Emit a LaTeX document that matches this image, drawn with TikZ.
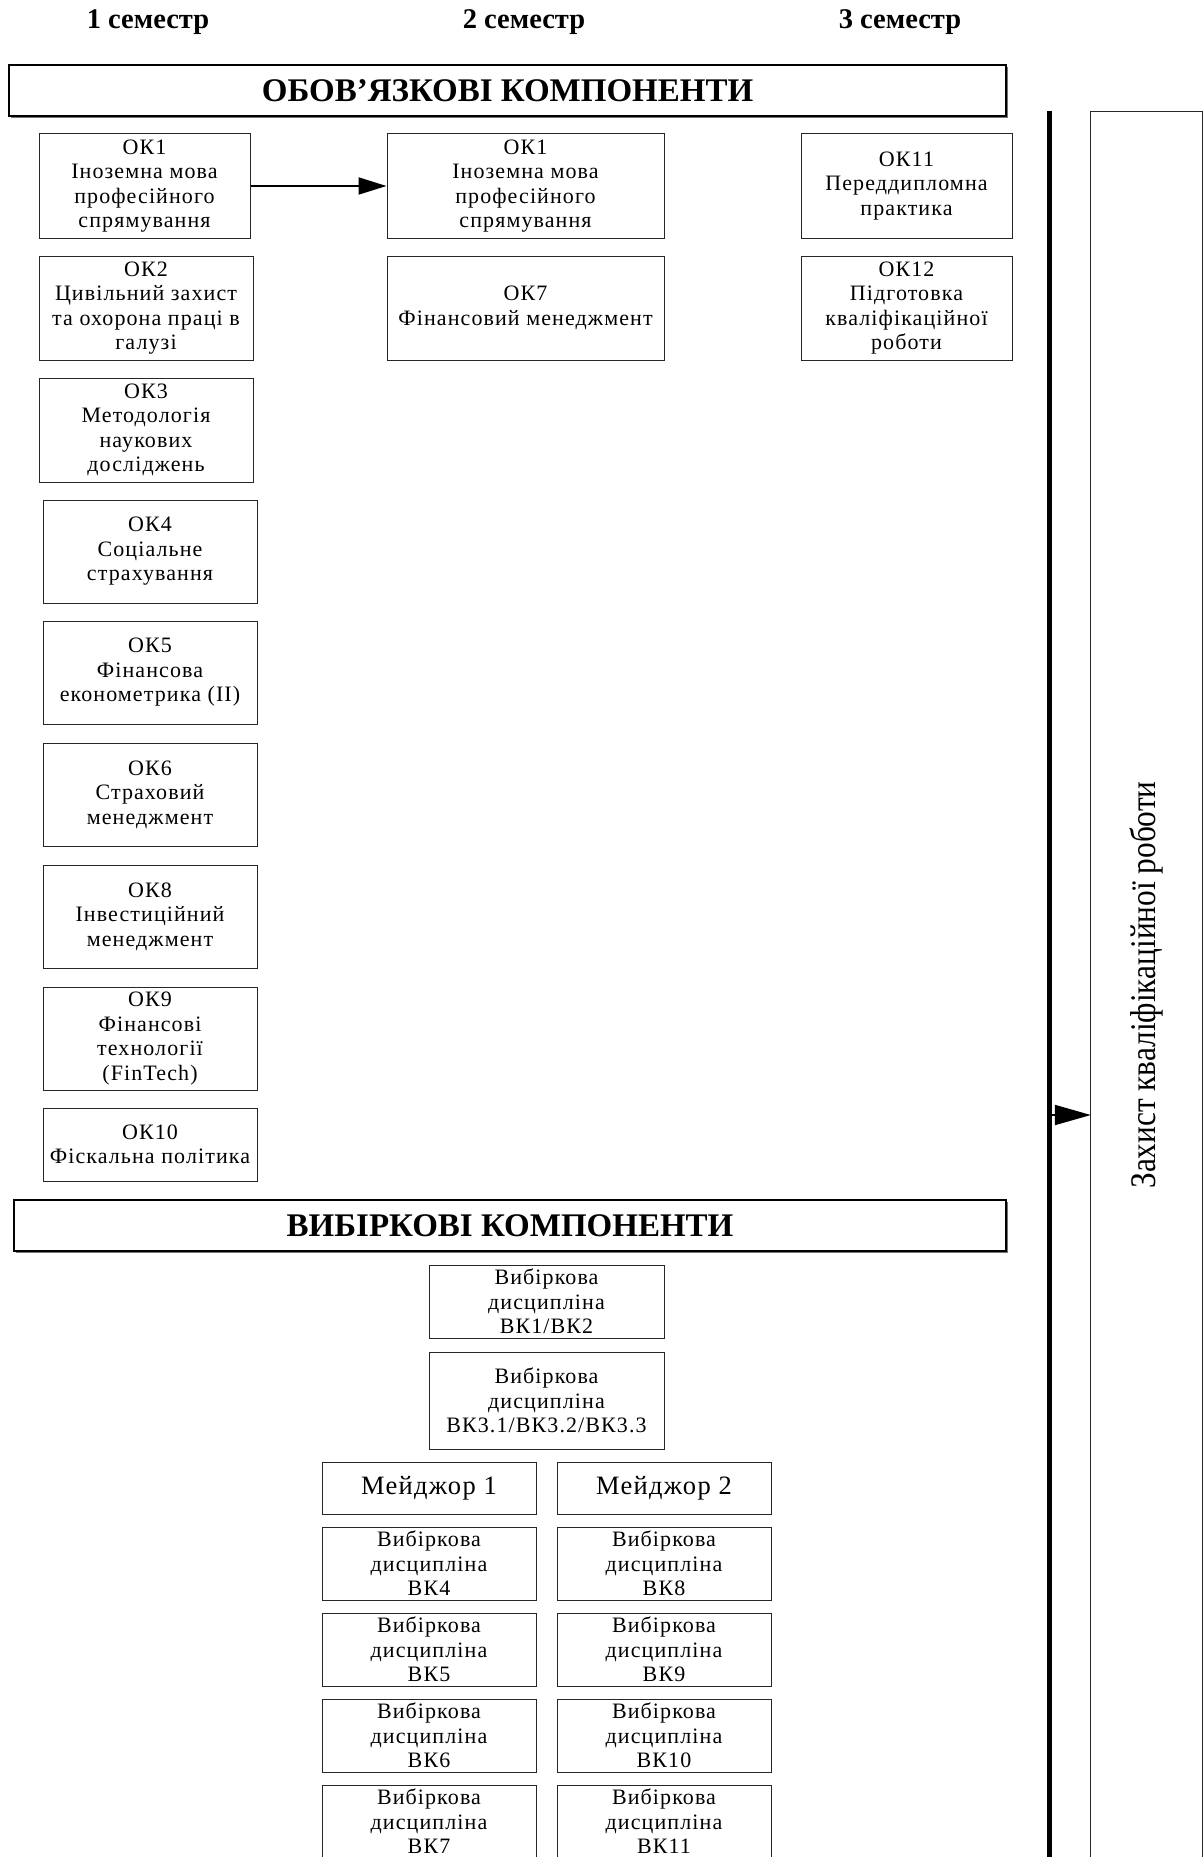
\documentclass[tikz,border=0pt]{standalone}
\usepackage{fontspec}
\usepackage{graphicx}
\setmainfont{Liberation Serif}
\newfontfamily\boxfont[LetterSpace=5]{Liberation Serif}
\usetikzlibrary{arrows.meta,shadows}
\tikzset{
  bx/.style={draw=black!85, line width=1pt, align=center, inner sep=0pt,
    font=\boxfont\fontsize{22}{24.5}\selectfont},
  mj/.style={bx, font=\boxfont\fontsize{26.5}{28}\selectfont},
  ttl/.style={draw=black, fill=white, line width=2.5pt, inner sep=0pt,
    font=\bfseries\fontsize{33}{38}\selectfont,
    drop shadow={shadow xshift=2pt, shadow yshift=-2pt, fill=black!55, opacity=1}},
  hdr/.style={font=\bfseries\fontsize{28.5}{32}\selectfont},
  arr/.style={line width=2pt, -{Triangle[length=28pt,width=17pt]}},
  arrb/.style={line width=2pt, -{Triangle[length=36pt,width=20pt]}},
}
\newcommand\bx[7][bx]{\node[#1, minimum width={#5-#3}, minimum height={#6-#4}] (#2) at ({(#3+#5)/2},{(#4+#6)/2}) {#7};}
\begin{document}
\begin{tikzpicture}[x=1pt,y=-1pt]
\useasboundingbox (0,0) rectangle (1203,1857);
% headers
\node[hdr] (s1) at (148,22.5) {1 семестр};
\node[hdr] (s2) at (524,22.5) {2 семестр};
\node[hdr] (s3) at (900,22.5) {3 семестр};
% titles
\node[ttl, minimum width=997, minimum height=51] (t1) at (507.5,90.5) {ОБОВ’ЯЗКОВІ КОМПОНЕНТИ};
\node[ttl, minimum width=992, minimum height=51] (t2) at (510,1225.5) {ВИБІРКОВІ КОМПОНЕНТИ};
% column 1
\bx{ok1}{39}{134}{250}{238}{ОК1\\Іноземна мова\\професійного\\спрямування}
\bx{ok2}{39}{256}{253}{360}{ОК2\\Цивільний захист\\та охорона праці в\\галузі}
\bx{ok3}{39}{378}{253}{482}{ОК3\\Методологія\\наукових\\досліджень}
\bx{ok4}{43}{500}{257}{603}{ОК4\\Соціальне\\страхування}
\bx{ok5}{43}{621}{257}{724}{ОК5\\Фінансова\\економетрика (ІІ)}
\bx{ok6}{43}{743}{257}{846}{ОК6\\Страховий\\менеджмент}
\bx{ok8}{43}{865}{257}{968}{ОК8\\Інвестиційний\\менеджмент}
\bx{ok9}{43}{987}{257}{1090}{ОК9\\Фінансові\\технології\\(FinTech)}
\bx{ok10}{43}{1108}{257}{1181}{ОК10\\Фіскальна політика}
% column 2
\bx{ok1b}{387}{134}{664}{238}{ОК1\\Іноземна мова\\професійного\\спрямування}
\bx{ok7}{387}{256}{664}{360}{ОК7\\Фінансовий менеджмент}
% column 3
\bx{ok11}{801}{134}{1012}{238}{ОК11\\Переддипломна\\практика}
\bx{ok12}{801}{256}{1012}{360}{ОК12\\Підготовка\\кваліфікаційної\\роботи}
% elective
\bx{vk1}{429}{1265}{664}{1338}{Вибіркова\\дисципліна\\ВК1/ВК2}
\bx{vk3}{429}{1352}{664}{1449}{Вибіркова\\дисципліна\\ВК3.1/ВК3.2/ВК3.3}
\bx[mj]{m1}{322}{1462}{536}{1514}{Мейджор 1}
\bx[mj]{m2}{557}{1462}{771}{1514}{Мейджор 2}
\bx{vk4}{322}{1527}{536}{1600}{Вибіркова\\дисципліна\\ВК4}
\bx{vk5}{322}{1613}{536}{1686}{Вибіркова\\дисципліна\\ВК5}
\bx{vk6}{322}{1699}{536}{1772}{Вибіркова\\дисципліна\\ВК6}
\bx{vk7}{322}{1785}{536}{1858}{Вибіркова\\дисципліна\\ВК7}
\bx{vk8}{557}{1527}{771}{1600}{Вибіркова\\дисципліна\\ВК8}
\bx{vk9}{557}{1613}{771}{1686}{Вибіркова\\дисципліна\\ВК9}
\bx{vk10}{557}{1699}{771}{1772}{Вибіркова\\дисципліна\\ВК10}
\bx{vk11}{557}{1785}{771}{1858}{Вибіркова\\дисципліна\\ВК11}
% defence box
\node[minimum width=111, minimum height=1745, inner sep=0pt] (zk) at (1146.5,984.5) {};
\draw[draw=black!85, line width=1pt] (zk.south west) -- (zk.north west) -- (zk.north east) -- (zk.south east);
\node[rotate=90, inner sep=0pt] (zkt) at (1146,985) {\scalebox{0.87}[1]{\fontsize{36}{40}\selectfont Захист кваліфікаційної роботи}};
% bar
\coordinate (bt) at (1049,111);
\coordinate (bb) at (1049,1857);
\draw[line width=5pt] (bt) -- (bb);
\coordinate (ba) at (1049,1115);
\draw[arrb] (ba) -- (ba -| zk.west);
% arrow OK1 -> OK1
\draw[arr] (ok1) -- (ok1b);
\end{tikzpicture}
\end{document}
